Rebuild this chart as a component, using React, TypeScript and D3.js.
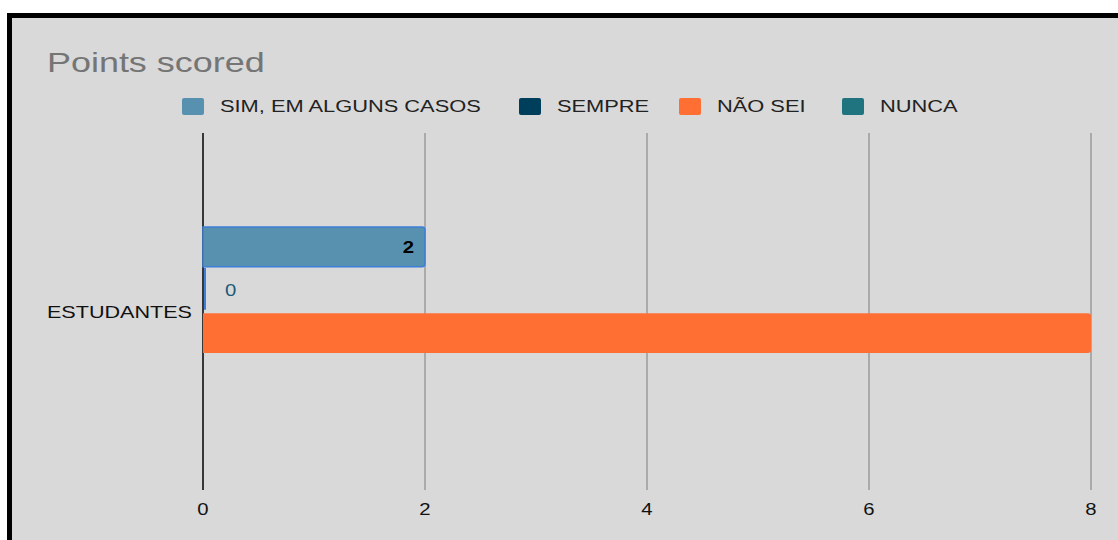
import React from "react";
import * as d3 from "d3";

const categories = ["ESTUDANTES"];
const seriesNames = ["SIM, EM ALGUNS CASOS", "SEMPRE", "NÃO SEI", "NUNCA"];
const seriesColors = ["#5891af", "#003f5c", "#ff6e33", "#1f7480"];
const estudantesValues: (number | null)[] = [2, 0, 8, null];
const xTicks = [0, 2, 4, 6, 8];
const titleText = "Points scored";

const W = 1118;
const H = 540;
const SX = 1.27; // horizontal text stretch of the reference
const FONT = "'Liberation Sans', Arial, sans-serif";

function ST({ x, y, anchor = "start", size, fill, weight = "normal", children }: any) {
  return (
    <text
      transform={`translate(${x},${y}) scale(${SX},1)`}
      textAnchor={anchor}
      fontSize={size}
      fill={fill}
      fontWeight={weight}
      fontFamily={FONT}
    >
      {children}
    </text>
  );
}

export default function App() {
  const plotTop = 133;
  const plotBottom = 490;
  const x = d3.scaleLinear().domain([0, 8]).range([203, 1091]);
  const y0 = d3
    .scaleBand<string>()
    .domain(categories)
    .range([plotTop, plotBottom])
    .paddingInner(0.3575)
    .paddingOuter(0.3575);
  const y1 = d3
    .scaleBand<string>()
    .domain(seriesNames)
    .range([0, y0.bandwidth()])
    .paddingInner(0.08)
    .paddingOuter(0.0);

  const legendX = [182, 519, 679, 842];

  return (
    <svg
      width={W}
      height={H}
      style={{ position: "absolute", left: 0, top: 0, display: "block" }}
    >
      <rect x={0} y={0} width={W} height={H} fill="#ffffff" />
      <rect x={7} y={13} width={W + 20} height={H + 20} fill="#d9d9d9" />
      <rect x={9.5} y={15.5} width={W + 20} height={H + 20} fill="none" stroke="#000" strokeWidth={5} />

      <ST x={47} y={72} size={28.3} fill="#757575">
        {titleText}
      </ST>

      {seriesNames.map((s, i) => (
        <g key={s}>
          <rect x={legendX[i]} y={98} width={22} height={17} rx={2} fill={seriesColors[i]} />
          <ST x={legendX[i] + 38} y={112} size={17.2} fill="#222">
            {s}
          </ST>
        </g>
      ))}

      {xTicks.map((t) => (
        <g key={t}>
          <line
            x1={x(t)}
            x2={x(t)}
            y1={plotTop}
            y2={plotBottom}
            stroke={t === 0 ? "#000" : "#aaaaaa"}
            strokeWidth={t === 0 ? 1.5 : 2}
          />
          <ST x={x(t)} y={515} anchor="middle" size={16} fill="#111">
            {t}
          </ST>
        </g>
      ))}

      {categories.map((c) => {
        const cy = (y0(c) as number) + y0.bandwidth() / 2;
        return (
          <g key={c}>
            <ST x={192} y={cy + 6} anchor="end" size={17} fill="#111">
              {c}
            </ST>
            {seriesNames.map((s, i) => {
              const v = estudantesValues[i];
              if (v === null) return null;
              const by = (y0(c) as number) + (y1(s) as number);
              const bh = y1.bandwidth();
              const x0 = x(0);
              const w = x(v) - x0;
              const r = Math.min(3, w);
              const path =
                w > 0
                  ? `M${x0},${by} H${x0 + w - r} Q${x0 + w},${by} ${x0 + w},${by + r} V${by + bh - r} Q${x0 + w},${by + bh} ${x0 + w - r},${by + bh} H${x0} Z`
                  : "";
              return (
                <g key={s}>
                  {w > 0 && (
                    <path
                      d={path}
                      fill={seriesColors[i]}
                      stroke={i === 0 ? "#3d7fd8" : "none"}
                      strokeWidth={i === 0 ? 1.5 : 0}
                    />
                  )}
                  {w === 0 && (
                    <line x1={x0 + 2} x2={x0 + 2} y1={by - 2} y2={by + bh} stroke="#3d7fd8" strokeWidth={2} />
                  )}
                  {i === 0 && (
                    <ST x={x(v) - 11} y={by + bh / 2 + 6} anchor="end" size={16} weight="bold" fill="#000">
                      {v}
                    </ST>
                  )}
                  {w === 0 && (
                    <ST x={x0 + 22} y={by + bh / 2 + 6} size={16} fill="#1d5a78">
                      {v}
                    </ST>
                  )}
                </g>
              );
            })}
          </g>
        );
      })}
    </svg>
  );
}
